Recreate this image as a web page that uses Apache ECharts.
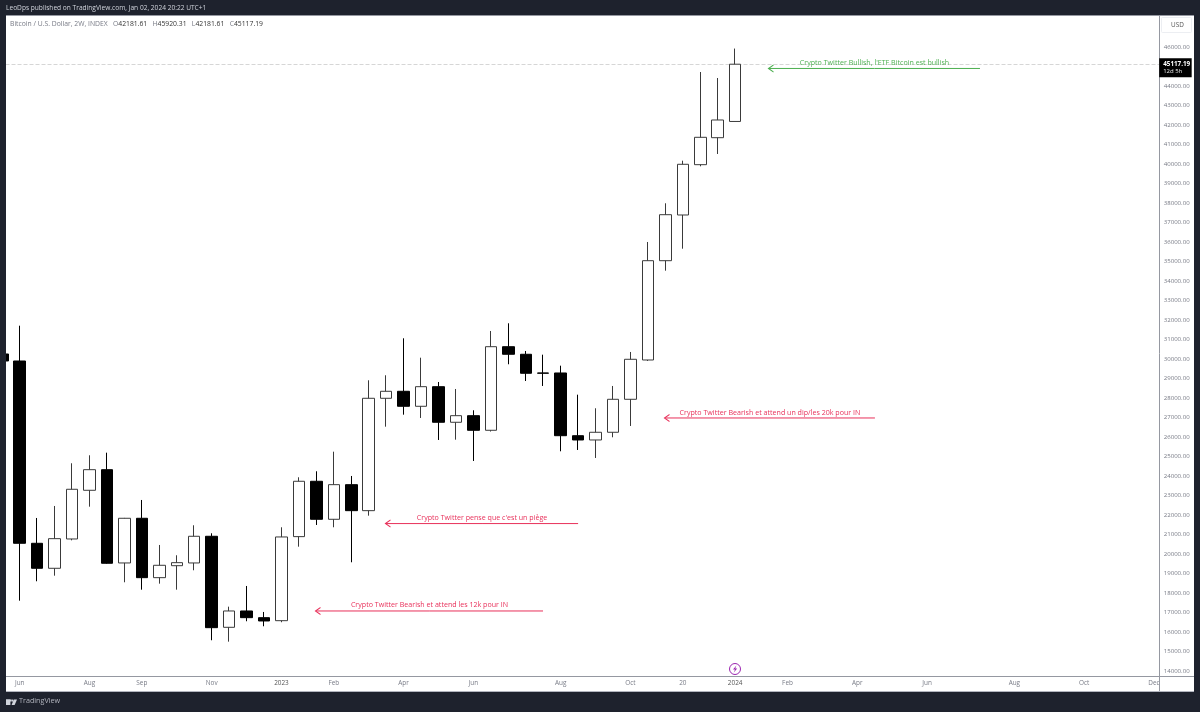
<!DOCTYPE html>
<html>
<head>
<meta charset="utf-8">
<title>BTC 2W</title>
<style>
  html, body { margin: 0; padding: 0; background: #1e222d; }
  #main { width: 1200px; height: 712px; }
</style>
<script src="https://cdn.jsdelivr.net/npm/echarts@6/dist/echarts.min.js"></script>
</head>
<body>
<div id="main"></div>
<script>
// 2W candles, the first one is mostly hidden behind the left edge of the chart
const opens = [30257, 29898, 20549, 19267, 20770, 23267, 24324, 19540, 21832, 18786, 19400, 19540, 20909, 16240, 17078, 16735, 16580, 20890, 23729, 21780, 23555, 22222, 27985, 28344, 27575, 28580, 26755, 27093, 26344, 30631, 30242, 29283, 29283, 26067, 25847, 26242, 27934, 29949, 35041, 37385, 39965, 41349, 42181.61];
const closes = [29898, 20549, 19267, 20786, 23319, 24324, 19524, 21832, 18786, 19421, 19555, 20909, 16222, 17078, 16735, 16565, 20873, 23729, 21780, 23555, 22222, 27985, 28344, 27575, 28580, 26755, 27093, 26344, 30631, 30242, 29267, 29270, 26067, 25847, 26242, 27934, 29985, 35041, 37400, 39985, 41369, 42257, 45117.19];
const lows = [28700, 17606, 18601, 18888, 20700, 22426, 19500, 18550, 18170, 18478, 18170, 19165, 15576, 15504, 16550, 16293, 16500, 20375, 21488, 21370, 19575, 21965, 26529, 27144, 26975, 25847, 25862, 24770, 26280, 29729, 28872, 28616, 25267, 25334, 24924, 25985, 26565, 29900, 34529, 35657, 39882, 40513, 42181.61];
const highs = [30700, 31708, 21847, 22462, 24652, 25062, 25196, 21850, 22770, 20462, 19934, 21473, 21062, 17299, 18360, 17027, 21370, 23934, 24242, 25247, 24001, 28908, 29165, 31062, 30067, 28821, 28462, 27370, 31436, 31831, 30411, 30221, 29657, 28170, 27473, 28616, 30360, 36000, 37985, 40170, 44718, 44410, 45920.31];

// one slot per bar on the time scale, the right part is empty future space
const timeLabels = ['', 'Jun', '', '', '', 'Aug', '', '', 'Sep', '', '', '', 'Nov', '', '', '', '2023', '', '', 'Feb', '', '', '', 'Apr', '', '', '', 'Jun', '', '', '', '', 'Aug', '', '', '', 'Oct', '', '', '20', '', '', '2024', '', '', 'Feb', '', '', '', 'Apr', '', '', '', 'Jun', '', '', '', '', 'Aug', '', '', '', 'Oct', '', '', '', 'Dec'];
const priceTicks = [14000, 15000, 16000, 17000, 18000, 19000, 20000, 21000, 22000, 23000, 24000, 25000, 26000, 27000, 28000, 29000, 30000, 31000, 32000, 33000, 34000, 35000, 36000, 37000, 38000, 39000, 40000, 41000, 42000, 43000, 44000, 45000, 46000];

// drawn notes: bar index of the arrow tip, bar index of the tail, price level
const noteTexts = ["Crypto Twitter Bullish, l'ETF Bitcoin est bullish", 'Crypto Twitter Bearish et attend un dip/les 20k pour IN', "Crypto Twitter pense que c'est un piège", 'Crypto Twitter Bearish et attend les 12k pour IN'];
const noteFrom = [43.94, 37.98, 21.99, 17.98];
const noteTo = [56.03, 50.01, 33, 30.99];
const noteLevel = [44900, 26975, 21560, 17078];
const noteColors = ['#4caf50', '#e8305a', '#e8305a', '#e8305a'];

const frame = '#1e222d';
const font = '"Open Sans", "Noto Sans", sans-serif';
const last = opens.length - 1;
const barStep = 17.45;
const chartLeft = 2.25 - barStep / 2;

const candles = opens.map((o, i) => [o, closes[i], lows[i], highs[i]]);

const noteSeries = noteTexts.map((text, i) => {
  const mid = (noteFrom[i] + noteTo[i]) / 2;
  return {
    type: 'line',
    xAxisIndex: 1,
    silent: true,
    z: 4,
    showSymbol: true,
    showAllSymbol: true,
    lineStyle: { color: noteColors[i], width: 1 },
    itemStyle: { color: 'rgba(0,0,0,0)', borderColor: noteColors[i], borderWidth: 1 },
    data: [
      { value: [noteFrom[i], noteLevel[i]], symbol: 'path://M5 0L0 5L5 10', symbolSize: [5, 7], symbolKeepAspect: false, symbolOffset: [2, 0] },
      {
        value: [mid, noteLevel[i]], symbol: 'circle', symbolSize: 0.01,
        label: { show: true, position: 'top', distance: 1.5, formatter: text, color: noteColors[i], fontSize: 7.1, fontFamily: font }
      },
      { value: [noteTo[i], noteLevel[i]], symbol: 'none' }
    ]
  };
});

const chart = echarts.init(document.getElementById('main'), null, { renderer: 'canvas' });

chart.setOption({
  animation: false,
  backgroundColor: frame,
  title: [
    {
      left: 6, top: 5, padding: 0, z: 10,
      text: 'LeoDps published on TradingView.com, Jan 02, 2024 20:22 UTC+1',
      textStyle: { color: '#d1d4dc', fontSize: 6.6, fontWeight: 'normal', fontFamily: font }
    },
    {
      left: 10, top: 21, padding: 0, z: 10,
      text: '{t|Bitcoin / U.S. Dollar, 2W, INDEX}   {t|O}{v|' + opens[last] + '}   {t|H}{v|' + highs[last] + '}   {t|L}{v|' + lows[last] + '}   {t|C}{v|' + closes[last] + '}',
      textStyle: {
        fontWeight: 'normal',
        fontSize: 6.8,
        fontFamily: font,
        rich: {
          t: { color: '#787b86', fontSize: 6.8, fontWeight: 'normal', fontFamily: font },
          v: { color: '#333', fontSize: 6.8, fontWeight: 'normal', fontFamily: font }
        }
      }
    }
  ],
  grid: {
    show: true,
    backgroundColor: '#fff',
    borderWidth: 0,
    outerBoundsMode: 'none',
    left: chartLeft,
    top: 16,
    width: barStep * timeLabels.length,
    height: 660
  },
  xAxis: [
    {
      type: 'category',
      data: timeLabels,
      z: 6,
      axisLine: { lineStyle: { color: '#9598a1' } },
      axisTick: { show: false },
      splitLine: { show: false },
      axisLabel: {
        interval: 0,
        margin: 4,
        hideOverlap: false,
        color: '#787b86',
        fontSize: 6.4,
        fontFamily: font,
        formatter: (v) => (/^20\d\d$/.test(v) ? '{y|' + v + '}' : v),
        rich: { y: { color: '#555', fontSize: 6.4, fontFamily: font } }
      }
    },
    // same width as the bars, lets the notes sit between bar centres
    { type: 'value', min: -0.5, max: timeLabels.length - 0.5, show: false }
  ],
  yAxis: {
    type: 'value',
    position: 'right',
    min: 13743,
    max: 47590,
    scale: true,
    z: 9,
    axisLine: { show: false },
    axisTick: { show: false },
    splitLine: { show: false },
    axisLabel: {
      customValues: priceTicks,
      margin: 1,
      color: '#787b86',
      fontSize: 6.1,
      fontFamily: font,
      formatter: (v) => v.toFixed(2)
    }
  },
  series: [
    {
      type: 'candlestick',
      data: candles,
      barWidth: 12,
      z: 3,
      itemStyle: {
        color: '#fff',
        color0: '#000',
        borderColor: '#3a3a3a',
        borderColor0: '#000',
        borderColorDoji: '#000',
        borderWidth: 1
      },
      markLine: {
        silent: true,
        symbol: 'none',
        z: 3,
        label: { show: false },
        lineStyle: { color: '#d6d6d6', type: 'dashed', width: 1 },
        data: [{ yAxis: closes[last] }]
      }
    },
    // price tag on the scale, sits on top of the axis panel
    {
      type: 'line',
      data: [[last, closes[last]]],
      showSymbol: false,
      silent: true,
      z: 20,
      markLine: {
        silent: true,
        symbol: 'none',
        z: 20,
        lineStyle: { width: 0, color: 'rgba(0,0,0,0)' },
        label: {
          show: true,
          position: 'end',
          distance: -3.5,
          offset: [0, 3.5],
          align: 'left',
          opacity: 1,
          backgroundColor: '#000',
          padding: [2, 1.5, 2, 4],
          lineHeight: 7,
          formatter: '{a|' + closes[last].toFixed(2) + '}\n{b|12d 5h}',
          rich: {
            a: { color: '#fff', fontSize: 6.3, fontWeight: 'bold', fontFamily: font, lineHeight: 7.5 },
            b: { color: '#e6e6e6', fontSize: 6, fontFamily: font, lineHeight: 7.5 }
          }
        },
        data: [{ yAxis: closes[last] }]
      }
    },
    ...noteSeries
  ],
  graphic: [
    { type: 'rect', z: 1, silent: true, shape: { x: 6, y: 676, width: 1153, height: 15 }, style: { fill: '#fff' } },
    { type: 'rect', z: 7, silent: true, shape: { x: 1159, y: 16, width: 35, height: 675 }, style: { fill: '#fff' } },
    { type: 'line', z: 8, silent: true, shape: { x1: 1159.5, y1: 16, x2: 1159.5, y2: 691 }, style: { stroke: '#9598a1', lineWidth: 1 } },
    { type: 'line', z: 8, silent: true, shape: { x1: 6, y1: 676.5, x2: 1194, y2: 676.5 }, style: { stroke: '#9598a1', lineWidth: 1 } },
    { type: 'line', z: 8, silent: true, shape: { x1: 6, y1: 691.5, x2: 1194, y2: 691.5 }, style: { stroke: '#b2b5be', lineWidth: 1 } },
    { type: 'line', z: 8, silent: true, shape: { x1: 6, y1: 15.5, x2: 1194, y2: 15.5 }, style: { stroke: '#9598a1', lineWidth: 1 } },
    // dark frame
    { type: 'rect', z: 7, silent: true, shape: { x: 0, y: 0, width: 1200, height: 15 }, style: { fill: frame } },
    { type: 'rect', z: 7, silent: true, shape: { x: 0, y: 0, width: 6, height: 712 }, style: { fill: frame } },
    { type: 'rect', z: 7, silent: true, shape: { x: 1194, y: 0, width: 6, height: 712 }, style: { fill: frame } },
    { type: 'rect', z: 7, silent: true, shape: { x: 0, y: 692, width: 1200, height: 20 }, style: { fill: frame } },
    // USD button
    { type: 'rect', z: 8, silent: true, shape: { x: 1161.5, y: 17.5, width: 30, height: 15, r: 1 }, style: { fill: '#fff', stroke: '#eceef2', lineWidth: 1 } },
    { type: 'text', z: 9, silent: true, x: 1171, y: 22, style: { text: 'USD', fill: '#555', fontSize: 6.4, fontFamily: font } },
    // event marker above the 2024 label
    { type: 'circle', z: 8, silent: true, shape: { cx: 735, cy: 669, r: 5.5 }, style: { fill: '#fff', stroke: '#9c27b0', lineWidth: 1 } },
    { type: 'polygon', z: 8, silent: true, shape: { points: [[736.4, 665.5], [733, 669.6], [735, 669.6], [733.8, 672.5], [737.2, 668.4], [735.2, 668.4]] }, style: { fill: '#9c27b0' } },
    // TradingView logo
    { type: 'rect', z: 9, silent: true, shape: { x: 6, y: 699.5, width: 4.4, height: 5.5 }, style: { fill: '#d1d4dc' } },
    { type: 'rect', z: 9, silent: true, shape: { x: 6, y: 699.5, width: 5.5, height: 2 }, style: { fill: '#d1d4dc' } },
    { type: 'circle', z: 9, silent: true, shape: { cx: 12.4, cy: 700.6, r: 1.1 }, style: { fill: '#d1d4dc' } },
    { type: 'polygon', z: 9, silent: true, shape: { points: [[13.8, 699.5], [17, 699.5], [14.6, 705], [11.6, 705]] }, style: { fill: '#d1d4dc' } },
    { type: 'text', z: 9, silent: true, x: 19, y: 697.5, style: { text: 'TradingView', fill: '#b2b5be', fontSize: 7.2, fontFamily: font } }
  ]
});
</script>
</body>
</html>
